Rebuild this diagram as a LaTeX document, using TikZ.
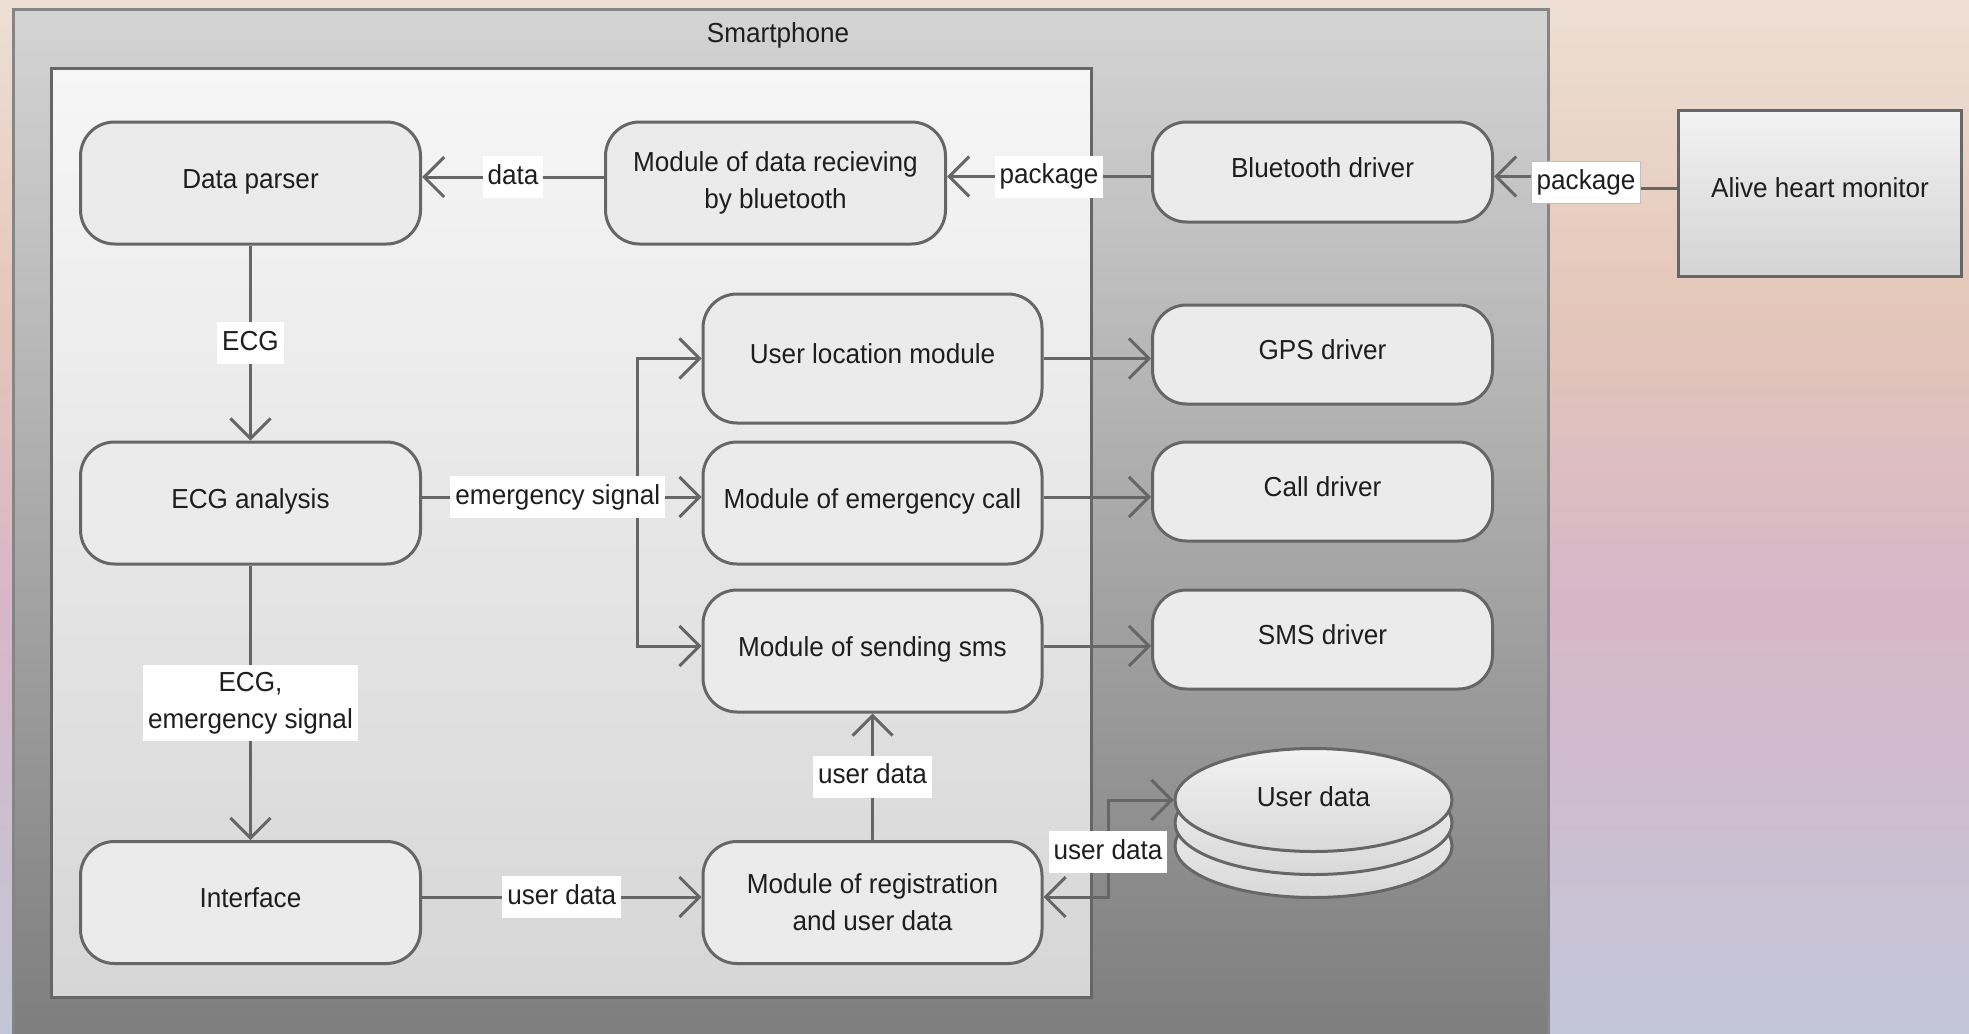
\documentclass[tikz,border=0pt]{standalone}
\usepackage{fontspec}
\setmainfont{Liberation Sans}[FakeStretch=0.95]
\usetikzlibrary{arrows.meta,shapes.geometric,calc}
\definecolor{bgA}{HTML}{EEDFD4}
\definecolor{bgB}{HTML}{E4C7B9}
\definecolor{bgC}{HTML}{D7B6C8}
\definecolor{bgD}{HTML}{C3C6D9}
\definecolor{lc}{HTML}{666666}
\definecolor{phoneborder}{HTML}{858585}
\definecolor{phonetop}{HTML}{D4D4D4}
\definecolor{phonebot}{HTML}{7D7D7D}
\definecolor{apptop}{HTML}{F6F6F6}
\definecolor{appbot}{HTML}{D6D6D6}
\definecolor{nodefill}{HTML}{EBEBEB}
\definecolor{txt}{HTML}{1E1E1E}
\pgfdeclareverticalshading{bgsh}{100bp}{color(0bp)=(bgD); color(25bp)=(bgD); color(46bp)=(bgC); color(60bp)=(bgB); color(75bp)=(bgA); color(100bp)=(bgA)}
\newcommand\nf{\fontsize{27.5pt}{37pt}\selectfont}
\begin{document}
\begin{tikzpicture}[x=1pt,y=-1pt,
  every node/.style={text=txt},
  proctwo/.style={draw=lc, line width=3pt, fill=nodefill, rounded corners=34pt,
    minimum width=340pt, minimum height=122pt, align=center, inner sep=0pt, font=\nf},
  proc/.style={proctwo, text height=20pt, text depth=10pt},
  drv/.style={proc, minimum height=99pt},
  lbl/.style={fill=white, inner xsep=5pt, inner ysep=8pt, font=\nf, align=center,
    text height=20pt, text depth=6pt},
  lbltwo/.style={fill=white, inner xsep=5pt, inner ysep=7pt, font=\nf, align=center},
  conn/.style={draw=lc, line width=3pt},
  arr/.style={conn, -{Straight Barb[length=20pt,width=40pt]}},
  arrboth/.style={conn, {Straight Barb[length=20pt,width=40pt]}-{Straight Barb[length=20pt,width=40pt]}},
  disk/.style={draw=lc, line width=3pt, top color=white!95!black, bottom color=white!85!black}
]
\useasboundingbox (0,0) rectangle (1969,1033);
\clip (0,0) rectangle (1969,1033);
\fill[shading=bgsh] (0,0) rectangle (1969,1033);

% containers
\node[draw=phoneborder, line width=3pt, top color=phonetop, bottom color=phonebot,
  minimum width=1535pt, minimum height=1035pt, anchor=north west, inner sep=0pt] (phone) at (12,8) {};
\node[font=\nf, text height=20pt, text depth=10pt] (title) at (778,37.5) {Smartphone};
\node[draw=lc, line width=3pt, top color=apptop, bottom color=appbot,
  minimum width=1040pt, minimum height=929pt, anchor=north west, inner sep=0pt] (app) at (50,67) {};

% nodes
\node[proc] (dp) at (250.5,183) {Data parser};
\node[proctwo] (mdr) at (775.5,183) {Module of data recieving\\by bluetooth};
\node[drv, minimum height=100pt] (bt) at (1322.5,172) {Bluetooth driver};
\node[draw=lc, line width=3pt, top color=white!95!black, bottom color=white!83!black,
  minimum width=283pt, minimum height=166pt, inner sep=0pt, font=\nf,
  text height=20pt, text depth=12pt] (ahm) at (1820,193) {Alive heart monitor};
\node[proc, minimum width=339pt, minimum height=129pt] (ulm) at (872.5,358.5) {User location module};
\node[proc, minimum width=339pt] (mec) at (872.5,503) {Module of emergency call};
\node[proc, minimum width=339pt] (mss) at (872.5,651) {Module of sending sms};
\node[proc] (ecga) at (250.5,503) {ECG analysis};
\node[proc] (intf) at (250.5,902.5) {Interface};
\node[proctwo, minimum width=339pt] (mreg) at (872.5,902.5) {Module of registration\\and user data};
\node[drv] (gps) at (1322.5,354.5) {GPS driver};
\node[drv] (call) at (1322.5,491.5) {Call driver};
\node[drv] (smsd) at (1322.5,639.5) {SMS driver};

% user data stack
\draw[disk] (1313.5,846) ellipse [x radius=138.5pt, y radius=51.5pt];
\draw[disk] (1313.5,823) ellipse [x radius=138.5pt, y radius=51.5pt];
\node[disk, ellipse, minimum width=277pt, minimum height=103pt, inner sep=0pt, font=\nf,
  text height=20pt, text depth=8pt] (ud) at (1313.5,800) {User data};

% helper coordinates
\coordinate (ya) at (0,176.5);
\coordinate (xpk) at (1586,182);
\coordinate (xbr) at (637,0);
\coordinate (yes) at (0,497);
\coordinate (yul) at (0,358.5);
\coordinate (ysm) at (0,646);
\coordinate (yud) at (0,897);
\coordinate (xjog) at (1108,852);

% connectors
\draw[arr] (mdr.west |- 0,177) -- (dp.east |- 0,177) node[lbl, midway] (l1) {data};
\draw[arr] (bt.west |- ya) -- (mdr.east |- ya) node[lbl, midway] (l2) {package};
\draw[arr] (ahm.west |- 0,188) -| (xpk) |- (bt.east |- ya);
\node[lbl, draw=white!75!black, line width=1pt] (l3) at (xpk) {package};
\draw[arr] (dp.south) -- (ecga.north) node[lbl, midway] (l4) {ECG};
\draw[arr] (ecga.south) -- (intf.north) node[lbltwo, midway] (l5) {ECG,\\emergency signal};
\draw[arr] (xbr |- yes) |- (ulm.west |- yul);
\draw[arr] (xbr |- yes) |- (mss.west |- ysm);
\draw[arr] (ecga.east |- yes) -- (mec.west |- yes) node[lbl, pos=0.486] (l6) {emergency signal};
\draw[arr] (ulm.east |- yul) -- (gps.west |- yul);
\draw[arr] (mec.east |- yes) -- (call.west |- yes);
\draw[arr] (mss.east |- ysm) -- (smsd.west |- ysm);
\draw[arr] (intf.east |- yud) -- (mreg.west |- yud) node[lbl, midway] (l7) {user data};
\draw[arr] (mreg.north) -- (mss.south) node[lbl, midway] (l8) {user data};
\draw[arrboth] (mreg.east |- yud) -| (xjog) |- (ud.west);
\node[lbl] (l9) at (xjog) {user data};
\end{tikzpicture}
\end{document}
